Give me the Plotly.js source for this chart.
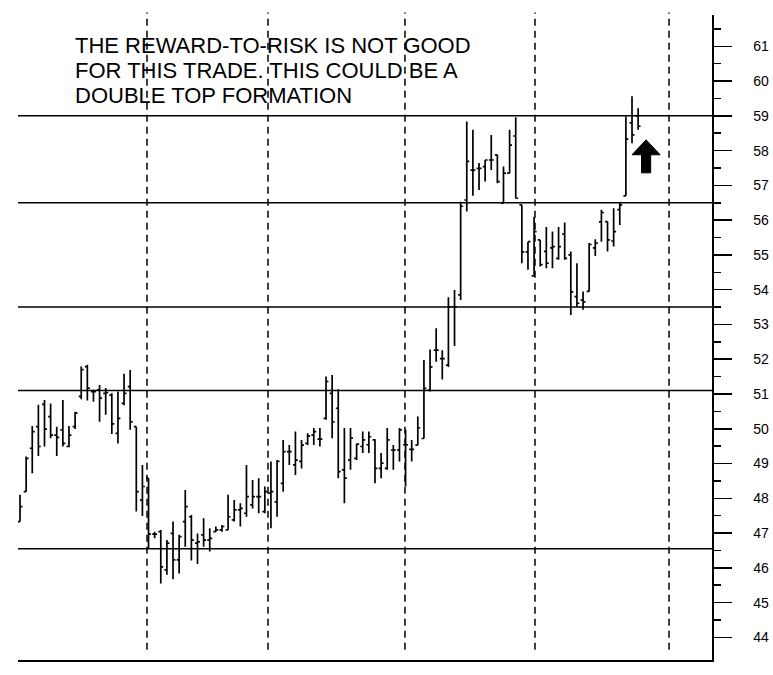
<!DOCTYPE html>
<html><head><meta charset="utf-8">
<script src="https://cdn.plot.ly/plotly-3.0.1.min.js"></script>
<style>html,body{margin:0;padding:0;background:#fff;overflow:hidden;}#chart{width:773px;height:675px;}</style>
</head><body><div id="chart"></div>
<script>
// Daily OHLC bars, in order
const openPrices = [47.33,48.19,49.44,50.06,50.70,50.35,49.82,49.97,49.49,50.06,50.93,51.79,51.07,51.12,51.02,50.97,49.87,50.73,51.21,50.06,47.95,48.58,46.97,
  47.04,45.94,46.99,46.23,47.33,47.47,46.71,46.95,46.80,47.04,47.09,47.09,47.38,47.67,47.57,47.81,48.05,47.62,48.15,47.90,
  48.43,49.34,48.96,49.06,49.58,49.82,49.70,50.30,51.02,50.59,48.82,49.10,49.15,49.49,49.54,49.68,48.86,48.86,49.39,49.39,49.54,49.41,49.53,
  49.72,51.11,52.26,52.02,51.83,53.51,53.85,56.58,57.44,57.49,57.54,57.73,57.88,56.49,57.35,58.42,56.44,55.09,54.40,
  55.43,55.10,55.20,54.90,55.60,55.00,53.80,53.70,53.95,55.20,55.95,55.96,55.40,56.30,56.70,58.80,59.00];
const highPrices = [48.10,49.20,50.08,50.69,50.83,50.73,50.06,50.83,50.08,50.49,51.79,51.84,51.12,51.26,51.17,51.02,51.07,51.58,51.69,50.06,48.96,48.58,47.04,
  47.09,46.80,47.33,46.95,48.24,47.52,46.99,47.43,47.14,47.19,47.23,48.10,47.95,47.86,48.96,48.53,48.58,48.34,49.06,49.10,
  49.68,49.53,49.92,49.68,49.87,50.02,50.02,51.50,51.55,51.14,50.02,50.02,49.58,49.92,49.92,49.70,49.30,50.02,49.53,50.02,49.97,49.68,50.35,
  51.98,52.28,52.89,52.26,53.78,53.99,56.53,58.84,58.60,57.64,57.73,58.45,57.88,57.54,58.60,58.96,56.44,55.38,56.10,
  55.43,55.80,55.67,55.80,55.93,55.10,54.76,53.95,55.34,55.45,56.30,55.96,56.34,56.49,58.98,59.56,59.22];
const lowPrices = [47.33,48.19,48.72,49.22,49.49,49.73,49.22,49.49,49.47,49.99,50.85,50.81,50.78,50.20,50.40,49.85,49.58,50.68,49.97,47.62,47.49,46.56,46.85,
  45.55,45.80,45.67,45.84,46.61,46.21,46.11,46.61,46.47,47.04,47.04,47.09,47.33,47.19,47.47,47.71,47.57,47.57,47.14,47.47,
  48.19,48.96,48.67,48.86,49.53,49.53,49.49,50.26,49.73,48.58,47.86,48.82,49.10,49.30,49.30,48.43,48.58,48.82,48.82,49.06,48.34,49.06,49.53,
  49.72,51.07,51.93,51.42,51.78,52.38,53.70,56.25,56.70,56.87,57.11,57.44,57.06,56.49,57.35,56.63,54.76,54.57,54.38,
  54.67,54.62,54.62,54.86,54.86,53.27,53.51,53.42,53.95,54.97,55.38,55.10,55.24,55.86,56.70,58.21,58.60];
const closePrices = [47.76,49.15,49.92,49.49,49.99,49.82,49.75,49.58,49.82,50.45,51.70,51.17,51.07,50.88,51.04,50.14,50.30,51.02,50.20,48.19,48.34,46.97,46.97,
  46.03,46.71,46.23,46.90,47.76,46.80,46.75,46.80,46.85,47.09,47.19,47.47,47.67,47.71,48.05,48.05,48.05,48.19,48.19,49.06,
  49.34,49.34,49.10,49.53,49.79,49.92,49.70,51.36,50.20,48.77,48.58,49.73,49.56,49.68,49.77,48.86,49.01,49.68,49.39,49.97,49.54,49.41,50.03,
  51.16,51.78,52.26,52.02,53.51,53.51,56.40,57.69,57.44,57.49,57.73,57.73,57.11,57.35,58.16,56.63,55.09,55.38,55.67,
  54.72,54.76,55.24,55.24,54.90,53.94,53.61,53.65,55.30,55.34,56.22,55.43,55.67,56.44,58.33,58.45,58.70];

// Support / resistance levels and month divider positions (bar units)
const supportLevels = [59.0, 56.5, 53.5, 51.1, 46.55];
const monthDividers = [20.75, 40.52, 62.9, 84.15, 106.05];
const noteLines = ["THE REWARD-TO-RISK IS NOT GOOD", "FOR THIS TRADE. THIS COULD BE A", "DOUBLE TOP FORMATION"];
const yMajorTicks = [44,45,46,47,48,49,50,51,52,53,54,55,56,57,58,59,60,61];

// Arrow marker (bar units / price units)
const arrowAt = {x: 102.3, tip: 58.31, headBase: 57.88, base: 57.36, headHalf: 2.3, shaftHalf: 0.75};

const barIndex = openPrices.map((_, i) => i);

const trace = {
  type: 'ohlc',
  x: barIndex, open: openPrices, high: highPrices, low: lowPrices, close: closePrices,
  increasing: {line: {color: '#000', width: 1.7}},
  decreasing: {line: {color: '#000', width: 1.7}},
  tickwidth: 0.4,
  hoverinfo: 'skip'
};

const shapes = [];
supportLevels.forEach(v => shapes.push({type: 'line', xref: 'paper', x0: 0, x1: 1, yref: 'y', y0: v, y1: v,
  line: {color: '#000', width: 1.5}, layer: 'below'}));
monthDividers.forEach(v => shapes.push({type: 'line', xref: 'x', x0: v, x1: v, yref: 'paper', y0: 0.016, y1: 1.004,
  line: {color: '#000', width: 1.5, dash: '7px,5px'}, layer: 'below'}));
const a = arrowAt;
shapes.push({type: 'path', xref: 'x', yref: 'y', fillcolor: '#000', line: {color: '#000', width: 1},
  path: `M${a.x - a.shaftHalf},${a.base} L${a.x - a.shaftHalf},${a.headBase} L${a.x - a.headHalf},${a.headBase} L${a.x},${a.tip} L${a.x + a.headHalf},${a.headBase} L${a.x + a.shaftHalf},${a.headBase} L${a.x + a.shaftHalf},${a.base} Z`});

const noteY = [0.9527, 0.9140, 0.8752];
const annotations = noteLines.map((t, i) => ({
  xref: 'paper', yref: 'paper', x: 0.0793, y: noteY[i], xanchor: 'left', yanchor: 'middle',
  text: t, showarrow: false, font: {family: 'Liberation Sans, Arial, sans-serif', size: 22, color: '#000'}
}));

const layout = {
  width: 773, height: 675,
  margin: {l: 18, r: 61, t: 15, b: 15, pad: 0},
  paper_bgcolor: '#fff', plot_bgcolor: '#fff', showlegend: false,
  xaxis: {range: [-0.33, 113.07], showgrid: false, zeroline: false, showline: true, linecolor: '#000', linewidth: 1.5,
    ticks: '', showticklabels: false, rangeslider: {visible: false}, fixedrange: true},
  yaxis: {range: [43.35, 61.9], side: 'right', showgrid: false, zeroline: false, showline: true, linecolor: '#000', linewidth: 1.5,
    ticks: 'outside', ticklen: 18, tickwidth: 1.5, tickcolor: '#000',
    tickmode: 'array', tickvals: yMajorTicks, ticktext: yMajorTicks.map(String),
    tickfont: {family: 'Liberation Sans, Arial, sans-serif', size: 14, color: '#000'}, ticklabelstandoff: 19,
    minor: {tickmode: 'array', tickvals: yMajorTicks.map(v => v + 0.5), ticks: 'outside', ticklen: 7, tickwidth: 1.5, tickcolor: '#000', showgrid: false},
    fixedrange: true},
  shapes: shapes,
  annotations: annotations
};

Plotly.newPlot('chart', [trace], layout, {displayModeBar: false, staticPlot: true});
</script>
</body></html>
